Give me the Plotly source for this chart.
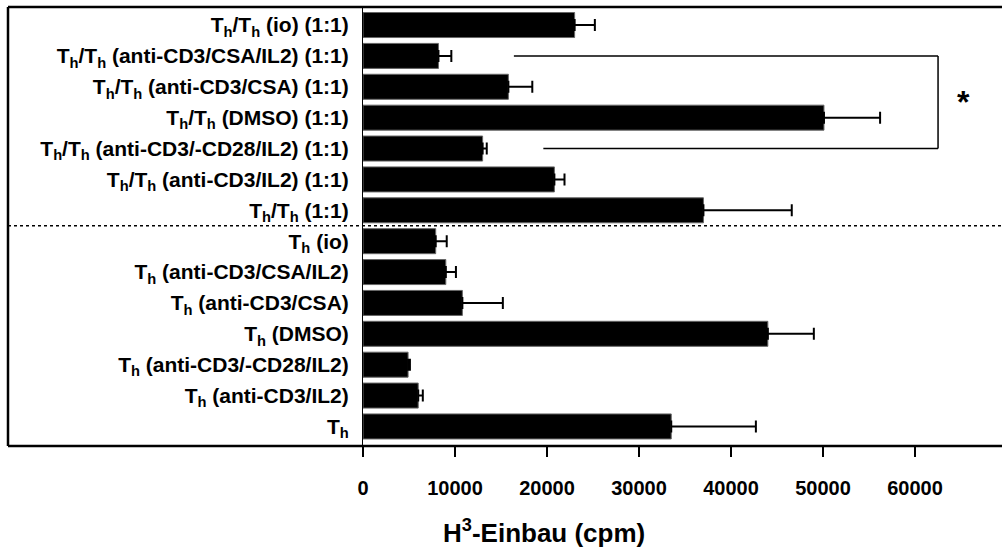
import plotly.graph_objects as go

# ---- data (bottom to top) ----
categories = [
    "T<sub>h</sub>",
    "T<sub>h</sub> (anti-CD3/IL2)",
    "T<sub>h</sub> (anti-CD3/-CD28/IL2)",
    "T<sub>h</sub> (DMSO)",
    "T<sub>h</sub> (anti-CD3/CSA)",
    "T<sub>h</sub> (anti-CD3/CSA/IL2)",
    "T<sub>h</sub> (io)",
    "T<sub>h</sub>/T<sub>h</sub> (1:1)",
    "T<sub>h</sub>/T<sub>h</sub> (anti-CD3/IL2) (1:1)",
    "T<sub>h</sub>/T<sub>h</sub> (anti-CD3/-CD28/IL2) (1:1)",
    "T<sub>h</sub>/T<sub>h</sub> (DMSO) (1:1)",
    "T<sub>h</sub>/T<sub>h</sub> (anti-CD3/CSA) (1:1)",
    "T<sub>h</sub>/T<sub>h</sub> (anti-CD3/CSA/IL2) (1:1)",
    "T<sub>h</sub>/T<sub>h</sub> (io) (1:1)",
]
values = [33500, 6000, 4900, 44000, 10800, 9000, 7900,
          37000, 20800, 13000, 50100, 15800, 8200, 23000]
errors = [9200, 500, 200, 5000, 4400, 1100, 1200,
          9600, 1100, 450, 6100, 2600, 1400, 2200]
x_ticks = [0, 10000, 20000, 30000, 40000, 50000, 60000]
x_title = "H<sup>3</sup>-Einbau (cpm)"

W, H = 1002, 553
ML, MR, MT, MB = 363, 0, 7, 107
PW = W - ML - MR
PH = H - MT - MB
XMAX = 69450
YRANGE = [-0.633, 13.584]

def px_x(p):
    return (p - ML) / PW

def px_y(p):
    return 1 - (p - MT) / PH

FONT = "Liberation Sans, Arial, sans-serif"

idx = list(range(len(categories)))

fig = go.Figure()
fig.add_trace(go.Bar(
    y=idx, x=values, orientation="h",
    marker=dict(color="black", line=dict(color="#666666", width=1)),
    width=0.81,
    error_x=dict(type="data", array=errors, arrayminus=[0] * len(errors),
                 symmetric=False, color="black", thickness=2, width=6),
    showlegend=False,
))

shapes = []
frame_left = px_x(8)
shapes.append(dict(type="line", xref="paper", yref="paper",
                   x0=frame_left, x1=1.0, y0=1, y1=1,
                   line=dict(color="black", width=2.5)))
shapes.append(dict(type="line", xref="paper", yref="paper",
                   x0=frame_left, x1=1.0, y0=0, y1=0,
                   line=dict(color="black", width=2.5)))
shapes.append(dict(type="line", xref="paper", yref="paper",
                   x0=frame_left, x1=frame_left, y0=0, y1=1,
                   line=dict(color="black", width=2.5)))
shapes.append(dict(type="line", xref="paper", yref="y",
                   x0=frame_left, x1=1.0, y0=6.5, y1=6.5,
                   line=dict(color="black", width=1.5, dash="dot")))
shapes.append(dict(type="line", xref="x", yref="y",
                   x0=16400, x1=62500, y0=12, y1=12,
                   line=dict(color="black", width=1.5)))
shapes.append(dict(type="line", xref="x", yref="y",
                   x0=19600, x1=62500, y0=9, y1=9,
                   line=dict(color="black", width=1.5)))
shapes.append(dict(type="line", xref="x", yref="y",
                   x0=62500, x1=62500, y0=9, y1=12,
                   line=dict(color="black", width=1.5)))

annotations = [
    dict(x=65300, y=10.5, xref="x", yref="y", text="<b>*</b>",
         showarrow=False, font=dict(family=FONT, size=32, color="black")),
    dict(x=px_x(544), y=px_y(531), xref="paper", yref="paper",
         text="<b>" + x_title + "</b>", showarrow=False,
         xanchor="center", yanchor="middle",
         font=dict(family=FONT, size=26, color="black")),
]

fig.update_layout(
    width=W, height=H,
    margin=dict(l=ML, r=MR, t=MT, b=MB, pad=0),
    paper_bgcolor="white", plot_bgcolor="white",
    font=dict(family=FONT, color="black", size=20),
    shapes=shapes, annotations=annotations,
)
fig.update_xaxes(
    range=[0, XMAX], tickmode="array", tickvals=x_ticks,
    ticktext=["<b>%d</b>" % v for v in x_ticks],
    ticks="outside", ticklen=10, tickwidth=2, tickcolor="black",
    showline=False, showgrid=False, zeroline=False,
    tickfont=dict(family=FONT, size=20, color="black"),
    ticklabelstandoff=14,
)
fig.update_yaxes(
    range=YRANGE, tickmode="array", tickvals=idx,
    ticktext=["<b>" + c + "</b>" for c in categories],
    ticks="", showline=True, linewidth=1, linecolor="black",
    showgrid=False, zeroline=False,
    tickfont=dict(family=FONT, size=21, color="black"),
    ticklabelstandoff=9,
)

fig.write_html("out.html")
